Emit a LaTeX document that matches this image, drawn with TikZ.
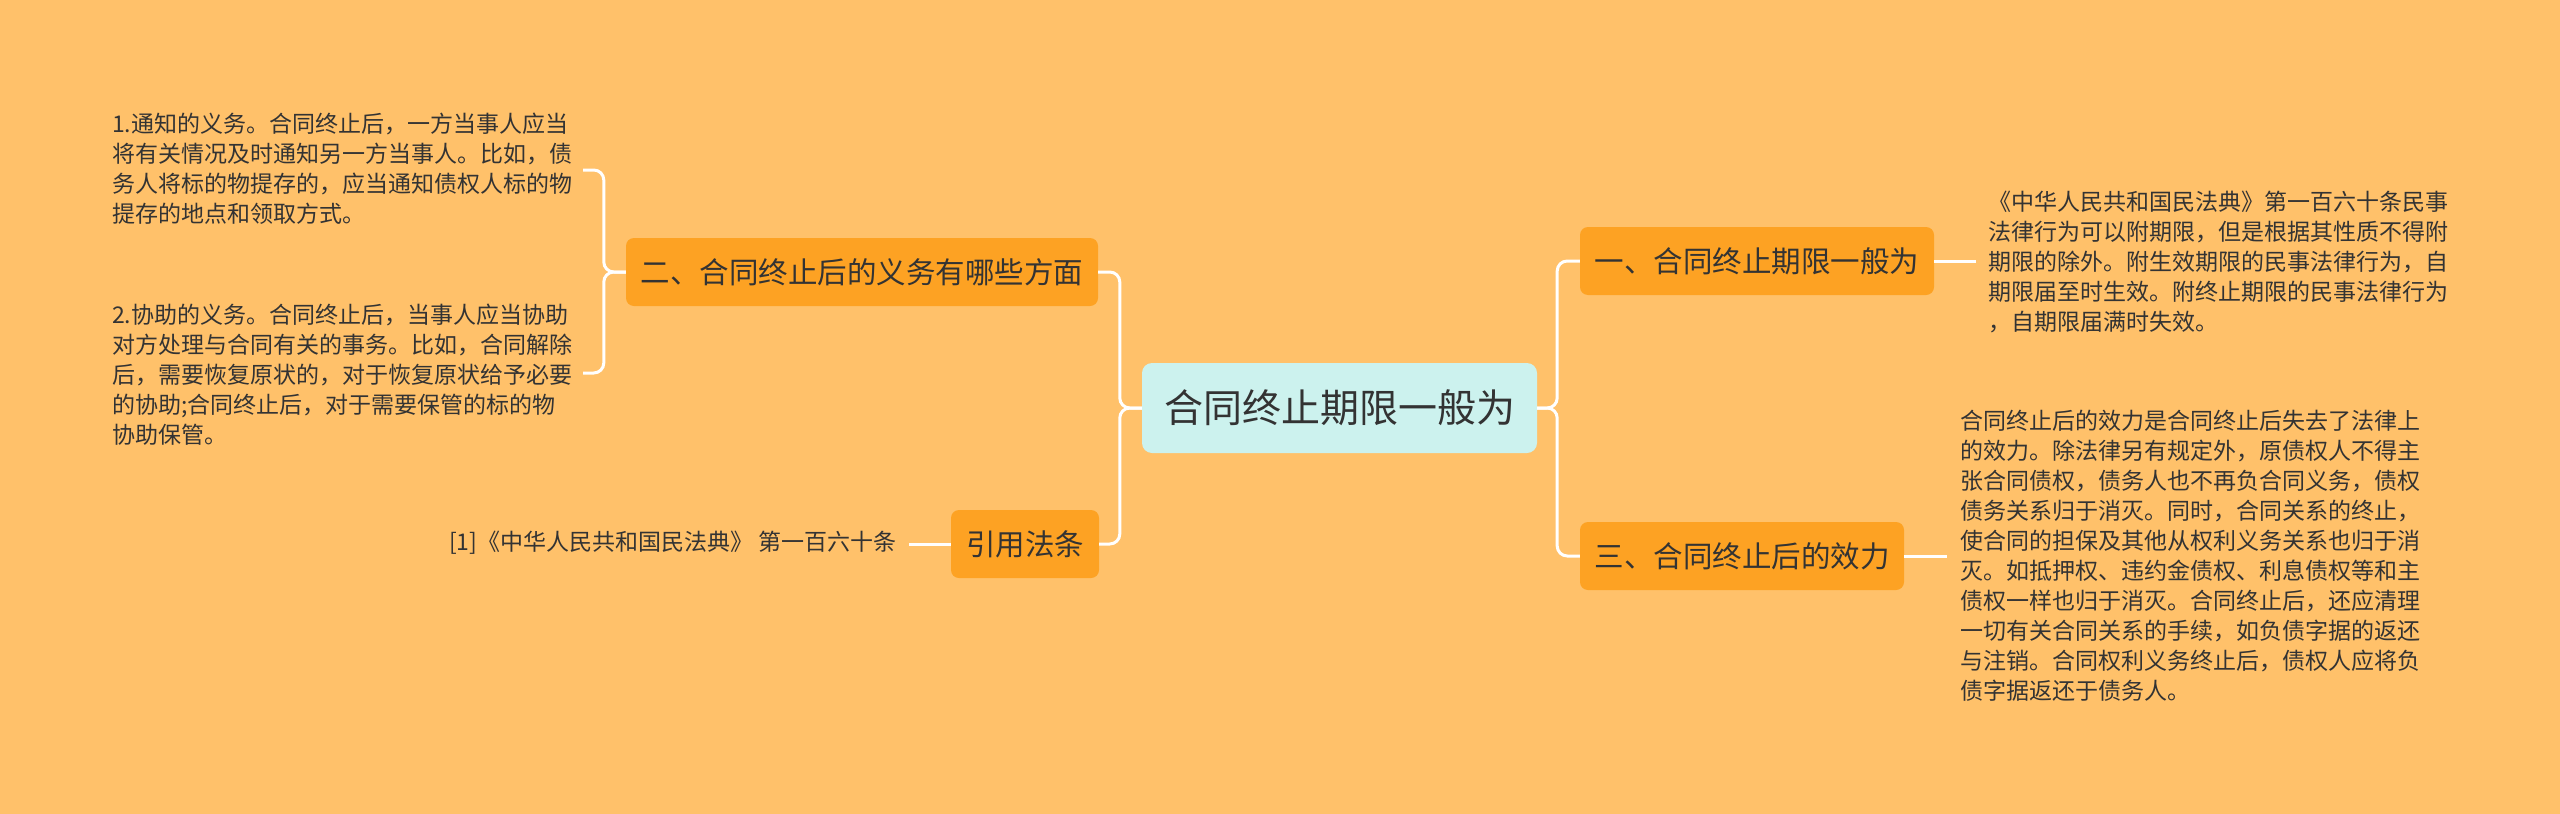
\documentclass[tikz,border=0pt]{standalone}
\usepackage{fontspec}
\setmainfont{Noto Sans CJK SC}
\definecolor{bgc}{RGB}{255,193,106}
\definecolor{nodec}{RGB}{253,162,35}
\definecolor{centc}{RGB}{204,242,238}
\definecolor{txtc}{RGB}{51,51,51}
\tikzset{
  conn/.style={draw=white, line width=3pt, rounded corners=10pt},
  topic/.style={fill=nodec, rounded corners=8pt, minimum height=68pt, inner sep=0pt, text=txtc, font=\fontsize{29.5}{34}\selectfont},
  central/.style={fill=centc, rounded corners=10pt, minimum width=395pt, minimum height=90pt, inner sep=0pt, text=txtc, font=\fontsize{39}{46}\selectfont},
  body/.style={anchor=west, align=left, inner sep=0pt, text=txtc, font=\fontsize{23}{30}\selectfont},
}
\begin{document}
\begin{tikzpicture}[x=1pt, y=-1pt]
\useasboundingbox (0,0) rectangle (2560,814);
\fill[bgc] (0,0) rectangle (2560,814);

\node[central] (c) at (1339.5,408) {合同终止期限一般为};
\node[topic, minimum width=472pt] (n2) at (862,272) {二、合同终止后的义务有哪些方面};
\node[topic, minimum width=148pt] (ref) at (1025,544) {引用法条};
\node[topic, minimum width=354pt] (n1) at (1757,261) {一、合同终止期限一般为};
\node[topic, minimum width=324pt] (n3) at (1742,556) {三、合同终止后的效力};

\node[body] (l1) at (112,169) {1.通知的义务。合同终止后，一方当事人应当\\将有关情况及时通知另一方当事人。比如，债\\务人将标的物提存的，应当通知债权人标的物\\提存的地点和领取方式。};
\node[body] (l2) at (112,375) {2.协助的义务。合同终止后，当事人应当协助\\对方处理与合同有关的事务。比如，合同解除\\后，需要恢复原状的，对于恢复原状给予必要\\的协助;合同终止后，对于需要保管的标的物\\协助保管。};
\node[body] (reft) at (449,543) {[1]《中华人民共和国民法典》 第一百六十条};
\node[body] (r1) at (1988,262) {《中华人民共和国民法典》第一百六十条民事\\法律行为可以附期限，但是根据其性质不得附\\期限的除外。附生效期限的民事法律行为，自\\期限届至时生效。附终止期限的民事法律行为\\，自期限届满时失效。};
\node[body] (r3) at (1960,556) {合同终止后的效力是合同终止后失去了法律上\\的效力。除法律另有规定外，原债权人不得主\\张合同债权，债务人也不再负合同义务，债权\\债务关系归于消灭。同时，合同关系的终止，\\使合同的担保及其他从权利义务关系也归于消\\灭。如抵押权、违约金债权、利息债权等和主\\债权一样也归于消灭。合同终止后，还应清理\\一切有关合同关系的手续，如负债字据的返还\\与注销。合同权利义务终止后，债权人应将负\\债字据返还于债务人。};

\coordinate (b1) at (583,170);
\coordinate (b2) at (583,373);
\coordinate (e1) at (1976,261);
\coordinate (e3) at (1947,556);
\coordinate (eref) at (909,544);

\draw[conn] (c.west) -- ++(-22,0) |- (n2.east);
\draw[conn] (c.west) -- ++(-22,0) |- (ref.east);
\draw[conn] (c.east) -- ++(20,0) |- (n1.west);
\draw[conn] (c.east) -- ++(20,0) |- (n3.west);
\draw[conn] (n2.west) -- ++(-22,0) |- (b1);
\draw[conn] (n2.west) -- ++(-22,0) |- (b2);
\draw[conn] (ref.west) -- (eref);
\draw[conn] (n1.east) -- (e1);
\draw[conn] (n3.east) -- (e3);
\end{tikzpicture}
\end{document}
